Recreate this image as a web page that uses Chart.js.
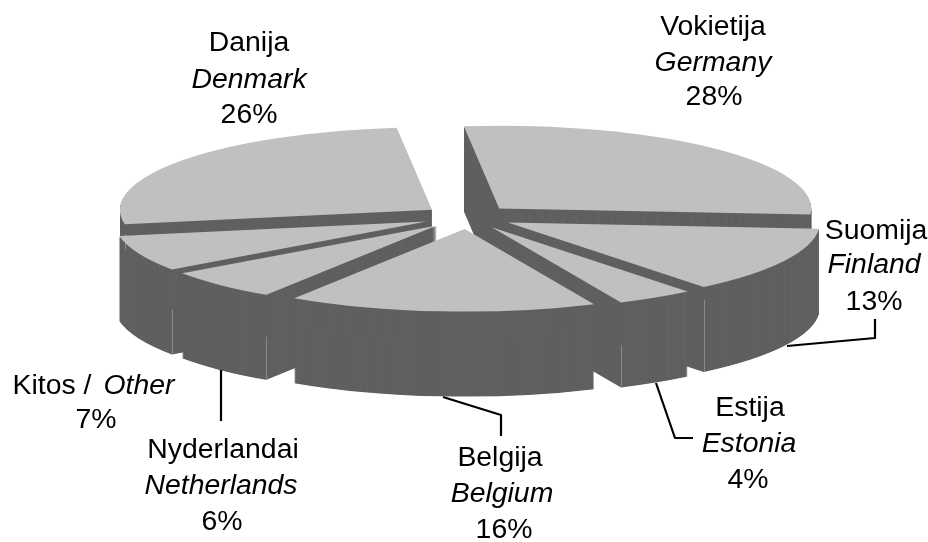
<!DOCTYPE html>
<html><head><meta charset="utf-8">
<style>html,body{margin:0;padding:0;background:#fff;overflow:hidden}#w{width:928px;height:542px;position:relative}</style>
<script src="https://cdn.jsdelivr.net/npm/chart.js@4"></script>
</head><body><div id="w"><canvas id="c" width="928" height="542"></canvas></div>
<script>
const categories = ["Vokietija / Germany","Suomija / Finland","Estija / Estonia","Belgija / Belgium","Nyderlandai / Netherlands","Kitos / Other","Danija / Denmark"];
const shares = [28,13,4,16,6,7,26];

const TOP_COLOR = "#c0c0c0", SIDE_COLOR = "#606060", EDGE_COLOR = "#8a8a8a";
const CENTER_X = 468, CENTER_Y = 217, SQUISH = 0.265, DEPTH = 85, EXPLODE = 45;
const FONT = '28.4px "Liberation Sans"';

// text blocks: [text, x, y, italic]
const labelRows = [
  ["Danija",249,43,0],["Denmark",249,80,1],["26%",249,115,0],
  ["Vokietija",713,27,0],["Germany",713,63,1],["28%",714,97,0],
  ["Suomija",876,231,0],["Finland",874,265,1],["13%",874,302,0],
  ["Estija",750,408,0],["Estonia",749,444,1],["4%",748,480,0],
  ["Belgija",500,458,0],["Belgium",502,494,1],["16%",504,530,0],
  ["Nyderlandai",223,450,0],["Netherlands",221,486,1],["6%",222,522,0],
  ["Kitos /",52,386,0],["Other",139,386,1],["7%",96,420,0]
];
const leaders = [
  [[787,346],[875,338],[875,319]],
  [[656,383],[675,438],[693,438]],
  [[443,397],[501,415],[501,436]],
  [[221,370],[221,421]]
];
// light wall corner lines: [slice index, "start"|"end", first depth, last depth]
const wallCorners = [[1,"end",13,85],[2,"end",43,85],[4,"start",42,85],[5,"start",40,85],[6,"start",10,25]];

const pie3d = {
  id:"pie3d",
  beforeDatasetDraw(chart,args){
    const ctx = chart.ctx, meta = chart.getDatasetMeta(args.index);
    const cax = chart.chartArea.left+chart.chartArea.width/2, cay = chart.chartArea.top+chart.chartArea.height/2;
    const place = (a,dy)=>{
      const mid=(a.startAngle+a.endAngle)/2;
      ctx.setTransform(1,0,0,SQUISH,CENTER_X+Math.cos(mid)*EXPLODE,CENTER_Y+SQUISH*Math.sin(mid)*EXPLODE+dy);
      ctx.translate(-cax,-cay);
    };
    ctx.save();
    for(let d=DEPTH;d>=1;d-=0.5){
      meta.data.forEach(a=>{
        ctx.save();place(a,d);
        const o=a.options;
        a.options=Object.assign({},o,{backgroundColor:SIDE_COLOR,borderColor:SIDE_COLOR,borderWidth:0});
        a.draw(ctx);
        a.options=o;
        ctx.restore();
      });
    }
    ctx.setTransform(1,0,0,1,0,0);
    ctx.strokeStyle=EDGE_COLOR;ctx.lineWidth=1;
    wallCorners.forEach(([i,side,d0,d1])=>{
      const a=meta.data[i], mid=(a.startAngle+a.endAngle)/2, ang=side==="start"?a.startAngle:a.endAngle;
      const x=CENTER_X+Math.cos(mid)*EXPLODE+Math.cos(ang)*a.outerRadius;
      const y=CENTER_Y+SQUISH*(Math.sin(mid)*EXPLODE+Math.sin(ang)*a.outerRadius);
      ctx.beginPath();ctx.moveTo(Math.round(x)+.5,y+d0);ctx.lineTo(Math.round(x)+.5,y+d1);ctx.stroke();
    });
    meta.data.forEach(a=>{ctx.save();place(a,0);a.draw(ctx);ctx.restore();});
    ctx.restore();
    return false;
  },
  afterDraw(chart){
    const ctx=chart.ctx;
    ctx.save();
    ctx.strokeStyle="#000";ctx.lineWidth=2.2;ctx.lineJoin="round";
    leaders.forEach(l=>{ctx.beginPath();l.forEach((p,i)=>i?ctx.lineTo(p[0],p[1]):ctx.moveTo(p[0],p[1]));ctx.stroke();});
    ctx.fillStyle="#000";ctx.textAlign="center";ctx.textBaseline="middle";
    labelRows.forEach(r=>{ctx.font=(r[3]?"italic ":"")+FONT;ctx.fillText(r[0],r[1],r[2]);});
    ctx.restore();
  }
};

new Chart(document.getElementById("c"),{
  type:"pie",
  data:{labels:categories,datasets:[{data:shares,backgroundColor:TOP_COLOR,borderWidth:0}]},
  options:{
    responsive:false,animation:false,events:[],
    radius:312,rotation:-6.5,
    plugins:{legend:{display:false},tooltip:{enabled:false}}
  },
  plugins:[pie3d]
});
</script></body></html>
